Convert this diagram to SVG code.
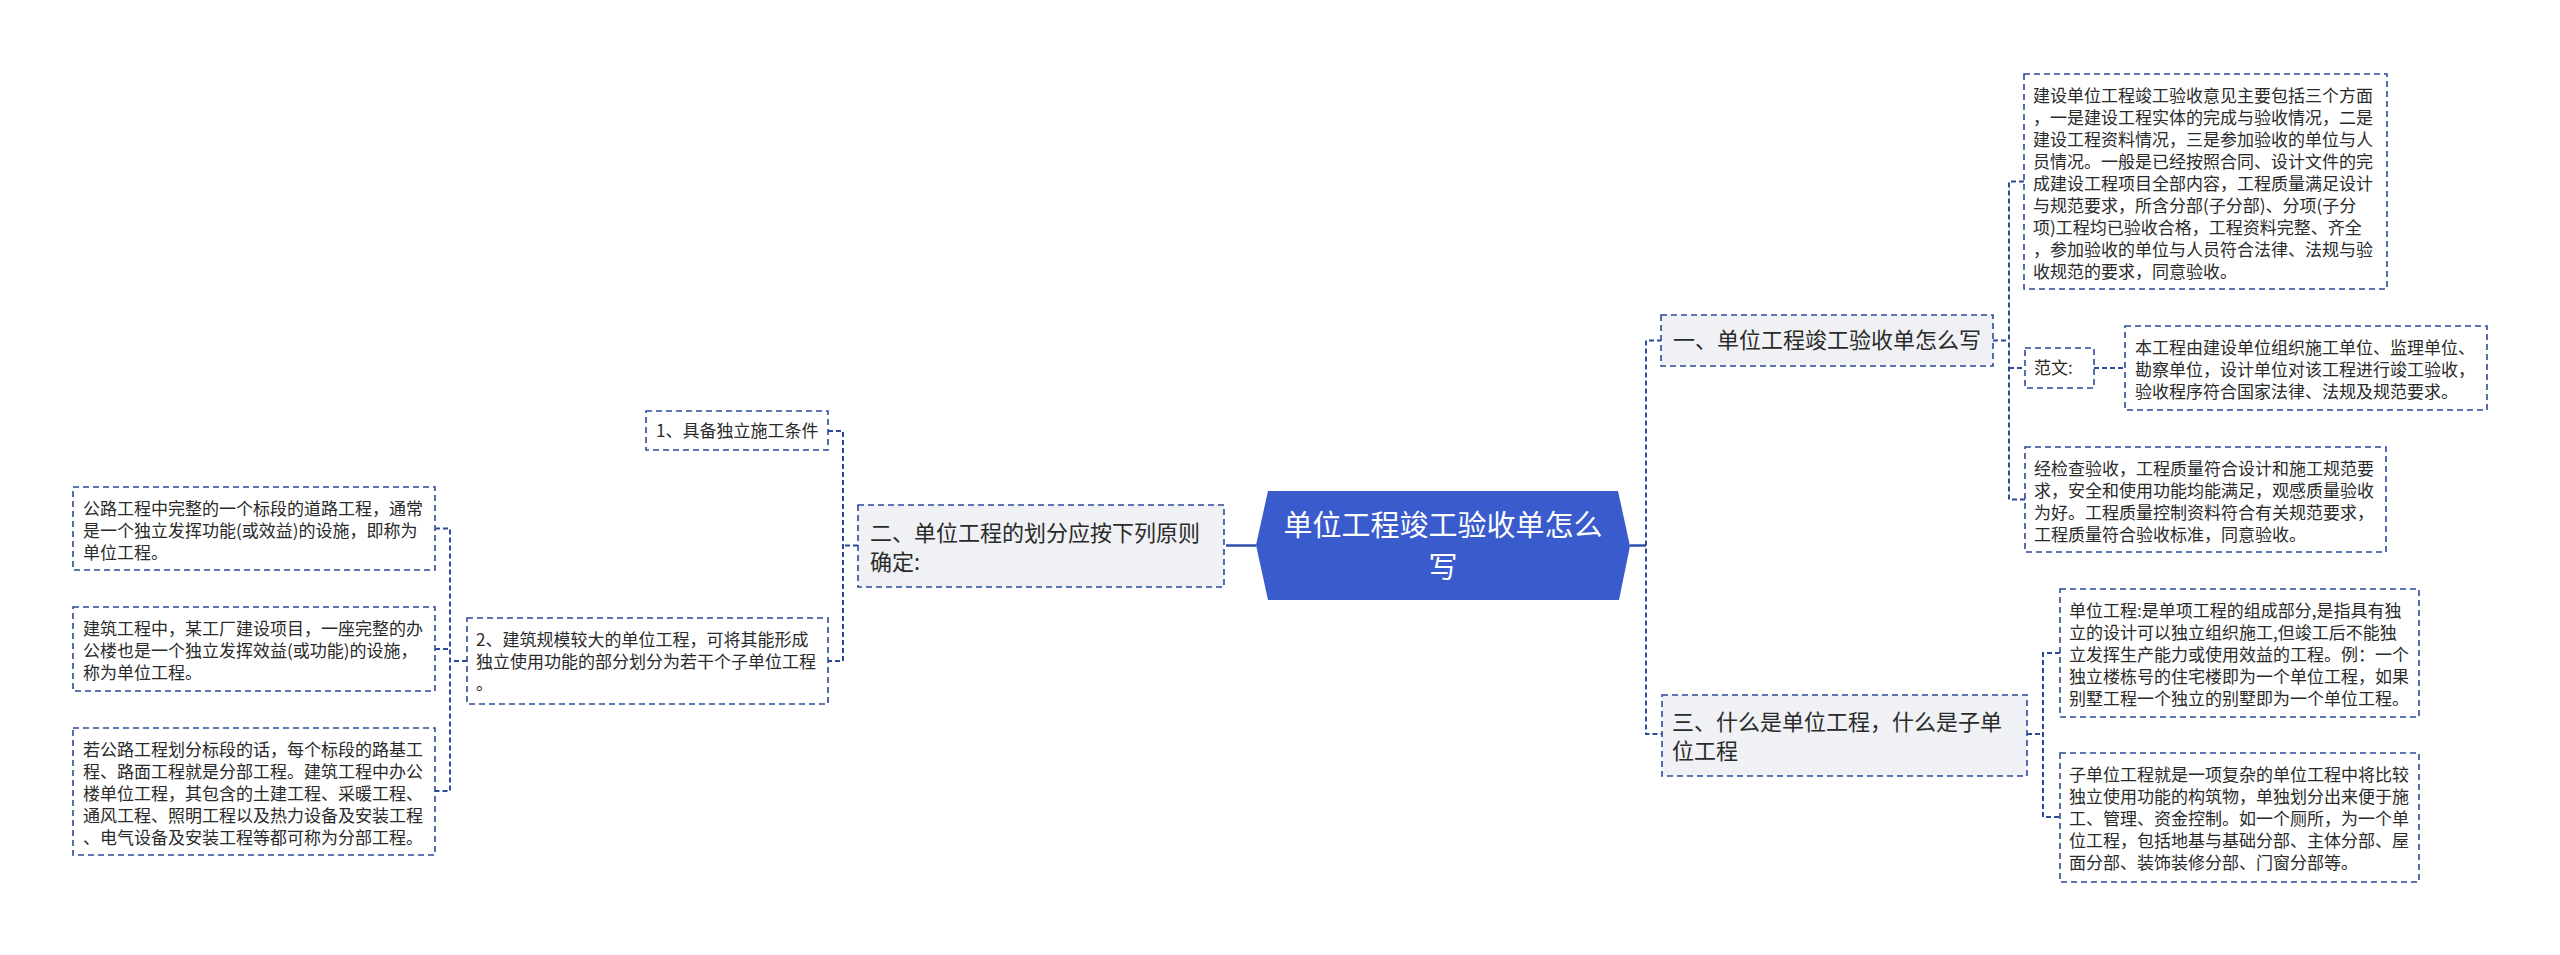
<svg xmlns="http://www.w3.org/2000/svg" width="2560" height="955" viewBox="0 0 2560 955">
<style>
.bg{fill:#ffffff}
.leaf{fill:#ffffff;stroke:#2c4a9c;stroke-width:1.6;stroke-dasharray:6 4}
.lvl1{fill:#eff1f4;stroke:#2c4a9c;stroke-width:1.6;stroke-dasharray:6 4}
.conn{fill:none;stroke:#2c4a9c;stroke-width:2;stroke-dasharray:5 3}
.solid{fill:none;stroke:#2f4fae;stroke-width:2.5}
.t{font-family:"Noto Sans CJK SC","Noto Sans",sans-serif;font-size:17px;fill:#2a2a2a}
.t1{font-family:"Noto Sans CJK SC","Noto Sans",sans-serif;font-size:22px;fill:#2a2a2a}
.tc{font-family:"Noto Sans CJK SC","Noto Sans",sans-serif;font-size:29px;fill:#ffffff;text-anchor:middle}
</style>
<rect class="bg" x="0" y="0" width="2560" height="955"/>

<g id="connectors">
  <path class="solid" d="M1630 545.5 H1646"/>
  <path class="solid" d="M1226 545.5 H1256"/>
  <path class="conn" d="M1662 340.5 H1646 V734 H1662"/>
  <path class="conn" d="M1993 340.5 H2009"/>
  <path class="conn" d="M2024 181.5 H2009 V499.5 H2025"/>
  <path class="conn" d="M2009 368 H2025"/>
  <path class="conn" d="M2094 368 H2125"/>
  <path class="conn" d="M2027 734 H2043"/>
  <path class="conn" d="M2060 653 H2043 V817 H2060"/>
  <path class="conn" d="M858 545.5 H843"/>
  <path class="conn" d="M828 431 H843 V661 H828"/>
  <path class="conn" d="M467 661 H450"/>
  <path class="conn" d="M435 528.5 H450 V791 H435"/>
  <path class="conn" d="M435 649 H450"/>
</g>

<g id="center">
  <polygon points="1268,491 1618,491 1630,546 1619,600 1268,600 1256,545" fill="#3a5bcc"/>
  <text class="tc" x="1443" y="536">单位工程竣工验收单怎么</text>
  <text class="tc" x="1443" y="578">写</text>
</g>

<g id="n1">
  <rect class="lvl1" x="1661" y="315" width="332" height="51"/>
  <text class="t1" x="1673" y="348">一、单位工程竣工验收单怎么写</text>
</g>

<g id="n1a">
  <rect class="leaf" x="2024" y="74" width="363" height="215"/>
  <text class="t" x="2033">
    <tspan x="2033" y="101.5">建设单位工程竣工验收意见主要包括三个方面</tspan>
    <tspan x="2033" y="123.5">，一是建设工程实体的完成与验收情况，二是</tspan>
    <tspan x="2033" y="145.5">建设工程资料情况，三是参加验收的单位与人</tspan>
    <tspan x="2033" y="167.5">员情况。一般是已经按照合同、设计文件的完</tspan>
    <tspan x="2033" y="189.5">成建设工程项目全部内容，工程质量满足设计</tspan>
    <tspan x="2033" y="211.5">与规范要求，所含分部(子分部)、分项(子分</tspan>
    <tspan x="2033" y="233.5">项)工程均已验收合格，工程资料完整、齐全</tspan>
    <tspan x="2033" y="255.5">，参加验收的单位与人员符合法律、法规与验</tspan>
    <tspan x="2033" y="277.5">收规范的要求，同意验收。</tspan>
  </text>
</g>

<g id="n1b">
  <rect class="leaf" x="2025" y="348" width="69" height="40"/>
  <text class="t" x="2034" y="374">范文:</text>
</g>

<g id="n1b1">
  <rect class="leaf" x="2125" y="326" width="362" height="84"/>
  <text class="t">
    <tspan x="2135" y="353.5">本工程由建设单位组织施工单位、监理单位、</tspan>
    <tspan x="2135" y="375.5">勘察单位，设计单位对该工程进行竣工验收，</tspan>
    <tspan x="2135" y="397.5">验收程序符合国家法律、法规及规范要求。</tspan>
  </text>
</g>

<g id="n1c">
  <rect class="leaf" x="2025" y="447" width="361" height="105"/>
  <text class="t">
    <tspan x="2034" y="474.5">经检查验收，工程质量符合设计和施工规范要</tspan>
    <tspan x="2034" y="496.5">求，安全和使用功能均能满足，观感质量验收</tspan>
    <tspan x="2034" y="518.5">为好。工程质量控制资料符合有关规范要求，</tspan>
    <tspan x="2034" y="540.5">工程质量符合验收标准，同意验收。</tspan>
  </text>
</g>

<g id="n3">
  <rect class="lvl1" x="1662" y="695" width="365" height="81"/>
  <text class="t1">
    <tspan x="1672" y="730">三、什么是单位工程，什么是子单</tspan>
    <tspan x="1672" y="759">位工程</tspan>
  </text>
</g>

<g id="n3a">
  <rect class="leaf" x="2060" y="589" width="359" height="128"/>
  <text class="t">
    <tspan x="2069" y="616.5">单位工程:是单项工程的组成部分,是指具有独</tspan>
    <tspan x="2069" y="638.5">立的设计可以独立组织施工,但竣工后不能独</tspan>
    <tspan x="2069" y="660.5">立发挥生产能力或使用效益的工程。例：一个</tspan>
    <tspan x="2069" y="682.5">独立楼栋号的住宅楼即为一个单位工程，如果</tspan>
    <tspan x="2069" y="704.5">别墅工程一个独立的别墅即为一个单位工程。</tspan>
  </text>
</g>

<g id="n3b">
  <rect class="leaf" x="2060" y="753" width="359" height="129"/>
  <text class="t">
    <tspan x="2069" y="780.5">子单位工程就是一项复杂的单位工程中将比较</tspan>
    <tspan x="2069" y="802.5">独立使用功能的构筑物，单独划分出来便于施</tspan>
    <tspan x="2069" y="824.5">工、管理、资金控制。如一个厕所，为一个单</tspan>
    <tspan x="2069" y="846.5">位工程，包括地基与基础分部、主体分部、屋</tspan>
    <tspan x="2069" y="868.5">面分部、装饰装修分部、门窗分部等。</tspan>
  </text>
</g>

<g id="n2">
  <rect class="lvl1" x="858" y="505" width="366" height="82"/>
  <text class="t1">
    <tspan x="870" y="541">二、单位工程的划分应按下列原则</tspan>
    <tspan x="870" y="570">确定:</tspan>
  </text>
</g>

<g id="n2a">
  <rect class="leaf" x="646" y="411" width="182" height="39"/>
  <text class="t" x="656" y="437">1、具备独立施工条件</text>
</g>

<g id="n2b">
  <rect class="leaf" x="467" y="618" width="361" height="86"/>
  <text class="t">
    <tspan x="476" y="645.5">2、建筑规模较大的单位工程，可将其能形成</tspan>
    <tspan x="476" y="667.5">独立使用功能的部分划分为若干个子单位工程</tspan>
    <tspan x="476" y="689.5">。</tspan>
  </text>
</g>

<g id="n2b1">
  <rect class="leaf" x="73" y="487" width="362" height="83"/>
  <text class="t">
    <tspan x="83" y="514.5">公路工程中完整的一个标段的道路工程，通常</tspan>
    <tspan x="83" y="536.5">是一个独立发挥功能(或效益)的设施，即称为</tspan>
    <tspan x="83" y="558.5">单位工程。</tspan>
  </text>
</g>

<g id="n2b2">
  <rect class="leaf" x="73" y="607" width="362" height="84"/>
  <text class="t">
    <tspan x="83" y="634.5">建筑工程中，某工厂建设项目，一座完整的办</tspan>
    <tspan x="83" y="656.5">公楼也是一个独立发挥效益(或功能)的设施，</tspan>
    <tspan x="83" y="678.5">称为单位工程。</tspan>
  </text>
</g>

<g id="n2b3">
  <rect class="leaf" x="73" y="728" width="362" height="127"/>
  <text class="t">
    <tspan x="83" y="755.5">若公路工程划分标段的话，每个标段的路基工</tspan>
    <tspan x="83" y="777.5">程、路面工程就是分部工程。建筑工程中办公</tspan>
    <tspan x="83" y="799.5">楼单位工程，其包含的土建工程、采暖工程、</tspan>
    <tspan x="83" y="821.5">通风工程、照明工程以及热力设备及安装工程</tspan>
    <tspan x="83" y="843.5">、电气设备及安装工程等都可称为分部工程。</tspan>
  </text>
</g>
</svg>
